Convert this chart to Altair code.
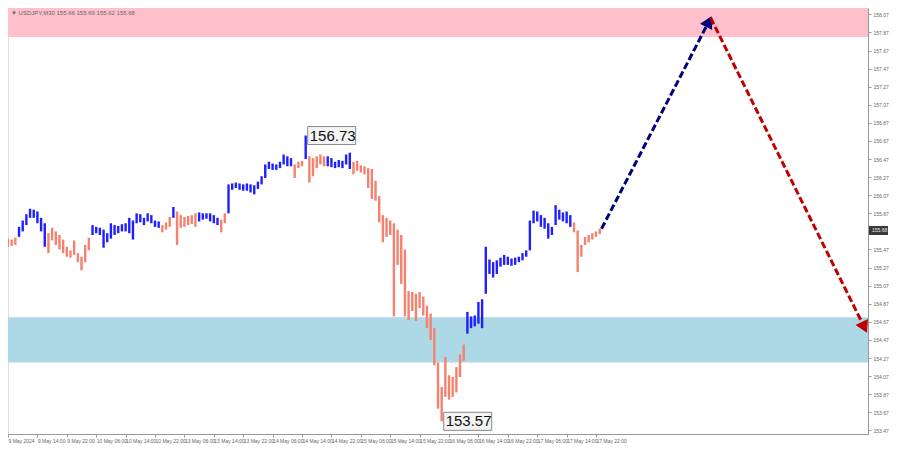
import json
import math
import altair as alt
import pandas as pd

# ---------------- data ----------------
# hourly bars, USDJPY (index 0 = 9 May 2024 06:00)
highs = [155.59,155.58,155.60,155.72,155.79,155.86,155.92,155.91,155.89,155.82,
         155.76,155.65,155.71,155.67,155.63,155.58,155.50,155.46,155.57,155.43,
         155.39,155.52,155.60,155.74,155.72,155.71,155.69,155.65,155.76,155.74,
         155.73,155.75,155.76,155.82,155.79,155.87,155.86,155.82,155.87,155.85,
         155.79,155.78,155.74,155.77,155.83,155.94,155.89,155.85,155.83,155.84,
         155.85,155.87,155.88,155.87,155.87,155.87,155.85,155.82,155.80,155.87,
         156.19,156.20,156.21,156.20,156.19,156.20,156.19,156.18,156.22,156.28,
         156.41,156.44,156.42,156.41,156.44,156.52,156.50,156.48,156.41,156.44,
         156.45,156.73,156.50,156.48,156.50,156.52,156.50,156.50,156.48,156.44,
         156.46,156.45,156.52,156.54,156.44,156.45,156.40,156.39,156.37,156.36,
         156.23,156.06,155.85,155.82,155.79,155.76,155.69,155.63,155.47,155.01,
         155.00,154.98,155.00,154.95,154.85,154.76,154.60,154.22,153.95,154.28,
         154.08,154.06,154.17,154.31,154.42,154.78,154.73,154.74,154.89,154.92,
         155.50,155.36,155.33,155.35,155.38,155.41,155.39,155.37,155.38,155.39,
         155.43,155.46,155.79,155.90,155.89,155.85,155.82,155.76,155.72,155.96,
         155.91,155.88,155.89,155.85,155.77,155.68,155.52,155.61,155.63,155.65,
         155.67,155.70]
lows = [155.50,155.51,155.52,155.61,155.67,155.74,155.82,155.82,155.76,155.67,
        155.50,155.43,155.57,155.52,155.47,155.43,155.39,155.38,155.41,155.33,
        155.24,155.33,155.46,155.63,155.65,155.63,155.49,155.55,155.59,155.63,
        155.65,155.67,155.67,155.65,155.58,155.76,155.77,155.74,155.78,155.76,
        155.72,155.71,155.66,155.69,155.72,155.82,155.52,155.71,155.72,155.74,
        155.75,155.72,155.78,155.80,155.81,155.78,155.76,155.74,155.66,155.76,
        155.87,156.13,156.15,156.13,156.12,156.12,156.10,156.08,156.14,156.19,
        156.26,156.36,156.35,156.35,156.37,156.41,156.39,156.39,156.26,156.37,
        156.39,156.47,156.21,156.28,156.37,156.41,156.39,156.39,156.38,156.37,
        156.38,156.37,156.41,156.36,156.30,156.34,156.32,156.30,156.15,156.03,
        156.01,155.77,155.55,155.61,155.63,154.73,155.30,155.09,154.73,154.69,
        154.79,154.68,154.82,154.74,154.60,154.47,154.19,153.71,153.57,153.84,
        153.81,153.84,153.89,154.06,154.24,154.54,154.60,154.62,154.65,154.60,
        154.98,155.20,155.16,155.20,155.28,155.30,155.30,155.29,155.30,155.33,
        155.35,155.39,155.46,155.76,155.78,155.72,155.70,155.59,155.63,155.74,
        155.80,155.78,155.76,155.72,155.66,155.22,155.39,155.52,155.55,155.58,
        155.61,155.64]

# wave segments: first bar index of each wave, directions alternate
wave_starts = [0, 3, 11, 23, 42, 45, 46, 52, 58, 60, 78, 81, 82, 87, 94, 125, 154]
wave_dirs = ["down", "up"]

# time axis labels (every 8 bars)
time_labels = ["9 May 2024", "9 May 14:00", "9 May 22:00", "10 May 06:00",
               "10 May 14:00", "10 May 22:00", "13 May 06:00", "13 May 14:00",
               "13 May 22:00", "14 May 06:00", "14 May 14:00", "14 May 22:00",
               "15 May 06:00", "15 May 14:00", "15 May 22:00", "16 May 06:00",
               "16 May 14:00", "16 May 22:00", "17 May 06:00", "17 May 14:00",
               "17 May 22:00"]

# price axis ticks (155.67 is hidden behind the current-price marker)
price_ticks = [153.47, 153.67, 153.87, 154.07, 154.27, 154.47, 154.67, 154.87,
               155.07, 155.27, 155.47, 155.87, 156.07, 156.27, 156.47,
               156.67, 156.87, 157.07, 157.27, 157.47, 157.67, 157.87, 158.07]

# target zones
zone_names = ["resistance", "support"]
zone_lo = [157.82, 154.22]
zone_hi = [158.40, 154.72]
zone_colors = ["#ffc0cb", "#add8e6"]

# forecast path (bar index, price)
fc_bars = [161.5, 191.2, 233.5]
fc_prices = [155.70, 158.03, 154.57]

# extreme labels
ext_bars = [81, 118]
ext_prices = [156.73, 153.57]

current_price = 155.68
title_text = "\u25bc USDJPY,M30  155.66 155.69 155.62 155.68"

# ---------------- layout ----------------
W, H = 860, 426
PAD = {"left": 0, "top": 0, "right": 24, "bottom": 12}
X_MIN, X_MAX = 0, 234
Y_MIN, Y_MAX = 153.43, 158.14
BAR_STEP = 8
AX_FONT = "Liberation Sans"

xs = alt.Scale(domain=[X_MIN, X_MAX], nice=False, zero=False)
ys = alt.Scale(domain=[Y_MIN, Y_MAX], nice=False, zero=False)

label_expr = json.dumps(time_labels) + "[round(datum.value / %d)]" % BAR_STEP
x_axis = alt.Axis(
    values=[BAR_STEP * k for k in range(len(time_labels))],
    labelExpr=label_expr, title=None, grid=False, orient="bottom",
    labelFont=AX_FONT, labelFontSize=5, labelColor="#666", labelAlign="left",
    labelPadding=1, tickSize=3, tickColor="#999", domainColor="#999",
    labelFlush=False, labelOverlap=False)
y_axis = alt.Axis(
    values=price_ticks, format=".2f", orient="right", title=None, grid=False,
    labelFont=AX_FONT, labelFontSize=5, labelColor="#666", tickSize=3, labelPadding=2,
    tickColor="#999", domainColor="#999", labelOverlap=False, labelFlush=False)


def X(f):
    return alt.X(f, scale=xs, axis=x_axis, title=None)


def Y(f):
    return alt.Y(f, scale=ys, axis=y_axis, title=None)


dirs = []
for i in range(len(highs)):
    k = max(j for j, s in enumerate(wave_starts) if s <= i)
    dirs.append(wave_dirs[k % 2])
bars = pd.DataFrame({"i": list(range(len(highs))), "hi": highs, "lo": lows, "dir": dirs})

zones = pd.DataFrame({"name": zone_names, "lo": zone_lo, "hi": zone_hi})

zone_layer = alt.Chart(zones).mark_rect(clip=True).encode(
    x=alt.value(0), x2=alt.value(W),
    y=Y("lo:Q"), y2="hi:Q",
    color=alt.Color("name:N", scale=alt.Scale(domain=zone_names, range=zone_colors), legend=None),
)

bar_layer = alt.Chart(bars).mark_rule(strokeWidth=2.4).encode(
    x=X("i:Q"), y=Y("lo:Q"), y2="hi:Q",
    color=alt.Color("dir:N", scale=alt.Scale(domain=["down", "up"], range=["#f4826e", "#1f1fff"]), legend=None),
)

ppb = W / (X_MAX - X_MIN)
ppp = H / (Y_MAX - Y_MIN)


def seg_layer(k, color):
    d = pd.DataFrame({"i": fc_bars[k:k + 2], "p": fc_prices[k:k + 2], "o": [0, 1]})
    line = alt.Chart(d).mark_line(strokeDash=[7, 3], strokeWidth=3, color=color).encode(
        x=X("i:Q"), y=Y("p:Q"), order="o:Q")
    dx = (fc_bars[k + 1] - fc_bars[k]) * ppb
    dy = -(fc_prices[k + 1] - fc_prices[k]) * ppp
    L = math.hypot(dx, dy)
    ang = math.degrees(math.atan2(dx, -dy)) % 360
    back = 6.0
    hb = fc_bars[k + 1] - dx / L * back / ppb
    hp = fc_prices[k + 1] + dy / L * back / ppp
    hd = pd.DataFrame({"i": [hb], "p": [hp]})
    head = alt.Chart(hd).mark_point(shape="triangle", filled=True, size=190, color=color,
                                    opacity=1, angle=ang).encode(x=X("i:Q"), y=Y("p:Q"))
    return line + head


blue_arrow = seg_layer(0, "#00007a")
red_arrow = seg_layer(1, "#c00000")

ext = pd.DataFrame({"i": ext_bars, "p": ext_prices, "t": ["%.2f" % v for v in ext_prices]})
ext_box = alt.Chart(ext).mark_rect(width=48, height=18, xOffset=26, fill="#f4f4f4",
                                   stroke="#8a8a8a", strokeWidth=1).encode(
    x=X("i:Q"), y=Y("p:Q"))
ext_text = alt.Chart(ext).mark_text(align="left", baseline="middle", dx=4, fontSize=15,
                                    font="Liberation Sans", color="#111").encode(
    x=X("i:Q"), y=Y("p:Q"), text="t:N")

cur = pd.DataFrame({"p": [current_price], "t": ["%.2f" % current_price]})
cur_box = alt.Chart(cur).mark_rect(height=9, color="#3a3a3a").encode(
    x=alt.value(W + 1), x2=alt.value(W + 20), y=Y("p:Q"))
cur_text = alt.Chart(cur).mark_text(align="left", baseline="middle", fontSize=5,
                                    font=AX_FONT, color="#e8e8e8").encode(
    x=alt.value(W + 4), y=Y("p:Q"), text="t:N")

ttl = alt.Chart(pd.DataFrame({"t": [title_text]})).mark_text(
    align="left", baseline="middle", fontSize=6, font=AX_FONT, color="#666").encode(
    x=alt.value(3), y=alt.value(5), text="t:N")

chart = alt.layer(
    zone_layer, bar_layer, blue_arrow, red_arrow, ext_box, ext_text, cur_box, cur_text, ttl
).resolve_scale(color="independent").properties(
    width=W, height=H,
    autosize=alt.AutoSizeParams(type="none"),
    padding=PAD,
    background="white",
).configure_view(stroke="#aaaaaa", strokeWidth=1).configure(font=AX_FONT)

chart.save("out.html", embed_options={"renderer": "svg", "actions": False})
